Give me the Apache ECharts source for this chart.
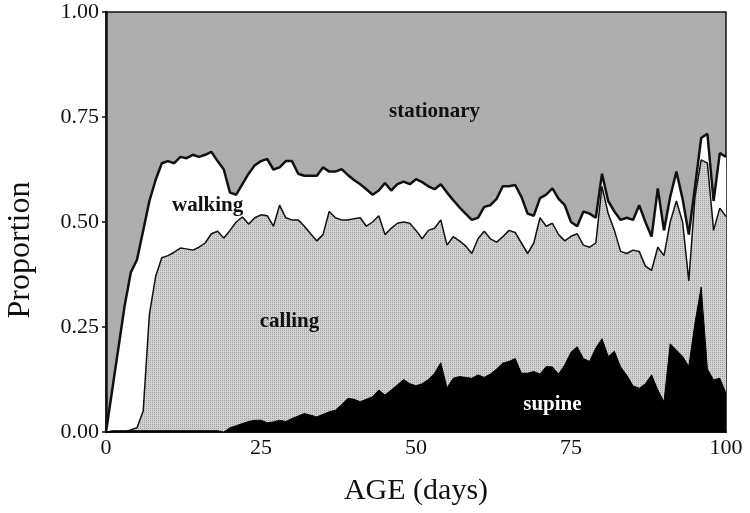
<!DOCTYPE html>
<html>
<head>
<meta charset="utf-8">
<script src="https://cdn.jsdelivr.net/npm/echarts@6/dist/echarts.min.js"></script>
<style>html,body{margin:0;padding:0;background:#fff}#c{width:750px;height:513px}</style>
</head>
<body>
<div id="c"></div>
<script>
// Days 0..100
const days = Array.from({length: 101}, (_, i) => i);
// Upper boundary of the "walking" band (cumulative: supine + calling + walking)
const walkingTop = [0,0.10,0.20,0.30,0.38,0.41,0.48,0.55,0.60,0.64,
0.645,0.64,0.655,0.652,0.66,0.655,0.66,0.667,0.645,0.625,
0.57,0.565,0.59,0.615,0.635,0.645,0.65,0.625,0.63,0.645,
0.645,0.615,0.61,0.61,0.61,0.63,0.62,0.62,0.626,0.612,
0.60,0.59,0.578,0.565,0.575,0.593,0.575,0.59,0.596,0.59,
0.602,0.595,0.585,0.578,0.59,0.57,0.552,0.535,0.52,0.505,
0.51,0.536,0.54,0.555,0.585,0.585,0.588,0.56,0.52,0.515,
0.557,0.565,0.58,0.555,0.54,0.50,0.49,0.525,0.52,0.51,
0.615,0.55,0.525,0.505,0.51,0.505,0.54,0.50,0.465,0.58,
0.48,0.56,0.62,0.555,0.47,0.584,0.70,0.71,0.55,0.664,0.655];
// Upper boundary of the "calling" band (cumulative: supine + calling)
const callingTop = [0,0,0,0,0.005,0.01,0.05,0.28,0.37,0.415,
0.42,0.428,0.438,0.436,0.433,0.44,0.45,0.472,0.478,0.462,
0.48,0.50,0.512,0.495,0.51,0.517,0.515,0.49,0.54,0.51,
0.505,0.505,0.49,0.472,0.455,0.47,0.525,0.51,0.505,0.505,
0.508,0.51,0.49,0.50,0.515,0.47,0.485,0.497,0.50,0.497,
0.48,0.46,0.48,0.485,0.505,0.445,0.465,0.455,0.443,0.425,
0.46,0.478,0.46,0.452,0.465,0.48,0.475,0.45,0.425,0.45,
0.51,0.49,0.497,0.47,0.455,0.466,0.472,0.445,0.44,0.45,
0.585,0.52,0.48,0.43,0.425,0.433,0.43,0.395,0.385,0.44,
0.42,0.50,0.55,0.50,0.36,0.56,0.648,0.64,0.48,0.533,0.513];
// Upper boundary of the "supine" band
const supineTop = [0,0.003,0.003,0.003,0.003,0.003,0.003,0.003,0.003,0.003,
0.003,0.003,0.003,0.003,0.003,0.003,0.003,0.003,0.003,0,
0.01,0.015,0.02,0.025,0.028,0.028,0.022,0.024,0.028,0.025,
0.032,0.038,0.044,0.04,0.036,0.042,0.048,0.052,0.065,0.08,
0.078,0.072,0.078,0.084,0.10,0.088,0.10,0.112,0.125,0.115,
0.11,0.115,0.125,0.14,0.165,0.105,0.128,0.132,0.13,0.128,
0.136,0.13,0.138,0.15,0.164,0.168,0.175,0.14,0.14,0.144,
0.138,0.156,0.155,0.138,0.16,0.19,0.203,0.175,0.168,0.20,
0.222,0.18,0.192,0.155,0.135,0.11,0.104,0.115,0.136,0.10,
0.072,0.21,0.195,0.18,0.156,0.26,0.345,0.15,0.124,0.128,0.092];
const yTicks = [0, 0.25, 0.5, 0.75, 1];
const xTicks = [0, 25, 50, 75, 100];
const bandLabels = [
  {name: 'stationary', day: 53, value: 0.762, color: '#111'},
  {name: 'walking', day: 16.4, value: 0.538, color: '#111'},
  {name: 'calling', day: 29.6, value: 0.264, color: '#111'},
  {name: 'supine', day: 72, value: 0.066, color: '#fff'}
];

const pc = document.createElement('canvas');
pc.width = 2; pc.height = 2;
const g = pc.getContext('2d');
g.fillStyle = '#d2d2d2'; g.fillRect(0,0,2,2);
g.fillStyle = '#a0a0a0'; g.fillRect(0,0,1,1);

const serif = '"Liberation Serif","DejaVu Serif",serif';
const chart = echarts.init(document.getElementById('c'));
const pair = arr => days.map((d, i) => [d, arr[i]]);
chart.setOption({
  animation: false,
  grid: {left: 106, right: 24, top: 12, bottom: 81, show: true, backgroundColor: '#adadad', borderColor: '#111', borderWidth: 1.5,
    containLabel: false, outerBoundsMode: 'none'},
  xAxis: {
    type: 'value', min: 0, max: 100, interval: 25,
    name: 'AGE (days)', nameLocation: 'middle', nameGap: 44,
    nameTextStyle: {fontFamily: serif, fontSize: 30, color: '#111'},
    axisLine: {show: true, lineStyle: {color: '#111', width: 2}},
    axisTick: {show: false},
    axisLabel: {fontFamily: serif, fontSize: 22, color: '#111', margin: 5,
      formatter: v => xTicks.includes(v) ? String(v) : ''},
    splitLine: {show: false}
  },
  yAxis: {
    type: 'value', min: 0, max: 1, interval: 0.25,
    name: 'Proportion', nameLocation: 'middle', nameGap: 69,
    nameTextStyle: {fontFamily: serif, fontSize: 32, color: '#111', padding: [0, 56, 0, 0]},
    axisLine: {show: true, lineStyle: {color: '#111', width: 2.5}},
    axisTick: {show: true, length: 4, lineStyle: {color: '#111', width: 1.5}},
    axisLabel: {fontFamily: serif, fontSize: 22, color: '#111', margin: 7, padding: [4, 0, 0, 0],
      formatter: v => yTicks.includes(v) ? v.toFixed(2) : ''},
    splitLine: {show: false}
  },
  series: [
    {name: 'walking', type: 'line', data: pair(walkingTop), showSymbol: false, symbol: 'none',
     lineStyle: {color: '#111', width: 2.5}, areaStyle: {color: '#ffffff', opacity: 1}, z: 2,
     markPoint: {symbol: 'circle', symbolSize: 0, silent: true,
       label: {show: true, position: 'inside', fontFamily: serif, fontWeight: 'bold', fontSize: 21,
         formatter: p => p.name, color: '#111'},
       data: bandLabels.slice(0, 3).map(b => ({name: b.name, coord: [b.day, b.value],
         label: {color: b.color}}))}},
    {name: 'calling', type: 'line', data: pair(callingTop), showSymbol: false, symbol: 'none',
     lineStyle: {color: '#111', width: 1.5}, areaStyle: {color: {image: pc, repeat: 'repeat'}, opacity: 1}, z: 3},
    {name: 'supine', type: 'line', data: pair(supineTop), showSymbol: false, symbol: 'none',
     lineStyle: {color: '#000', width: 1}, areaStyle: {color: '#000', opacity: 1}, z: 4,
     markPoint: {symbol: 'circle', symbolSize: 0, silent: true,
       label: {show: true, position: 'inside', fontFamily: serif, fontWeight: 'bold', fontSize: 21,
         formatter: p => p.name, color: '#fff'},
       data: bandLabels.slice(3).map(b => ({name: b.name, coord: [b.day, b.value]}))}}
  ]
});
</script>
</body>
</html>
